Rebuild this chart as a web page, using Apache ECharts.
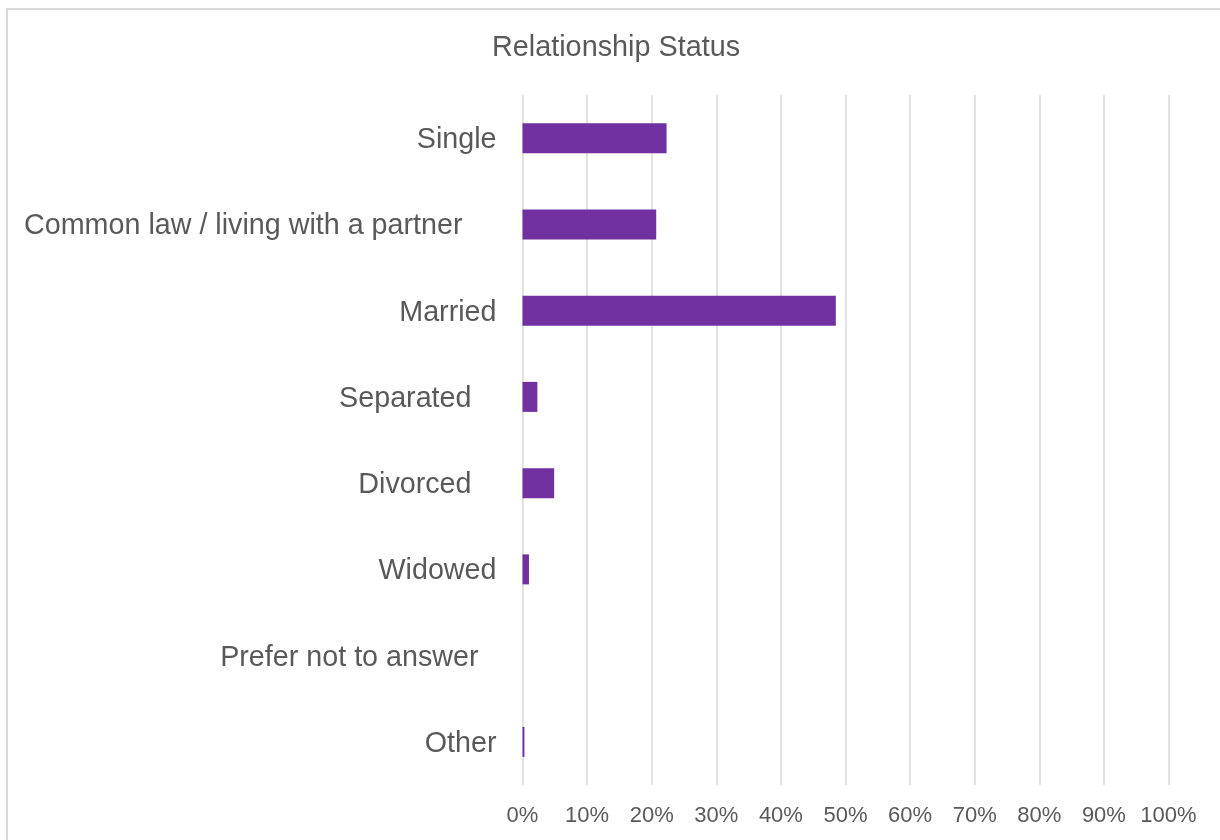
<!DOCTYPE html>
<html>
<head>
<meta charset="utf-8">
<script src="https://cdn.jsdelivr.net/npm/echarts@6/dist/echarts.min.js"></script>
<style>
  html, body { margin: 0; padding: 0; background: #ffffff; }
  #chart { width: 1220px; height: 840px; }
</style>
</head>
<body>
<div id="chart"></div>
<script>
const titleText = 'Relationship Status';
const categories = [
  'Single',
  'Common law / living with a partner',
  'Married',
  'Separated',
  'Divorced',
  'Widowed',
  'Prefer not to answer',
  'Other'
];
const percentValues = [22.3, 20.7, 48.5, 2.3, 4.9, 1.0, 0, 0.3];
const tickLabels = ['0%', '10%', '20%', '30%', '40%', '50%', '60%', '70%', '80%', '90%', '100%'];

// extra right spacing seen after some labels (trailing blanks in source)
const trailPad = { 1: 34, 3: 25, 4: 25, 6: 18 };

const chart = echarts.init(document.getElementById('chart'), null, { renderer: 'canvas' });
const FONT = '"Liberation Sans", Arial, sans-serif';

chart.setOption({
  backgroundColor: '#ffffff',
  animation: false,
  title: {
    text: titleText,
    left: 487,
    top: 29,
    textStyle: { fontFamily: FONT, fontSize: 28.8, fontWeight: 'normal', color: '#595959' }
  },
  graphic: [{
    type: 'rect',
    shape: { x: 7, y: 9, width: 1400, height: 1000 },
    style: { fill: 'none', stroke: '#d9d9d9', lineWidth: 2 },
    silent: true,
    z: 100
  }],
  grid: { left: 522.5, right: 51.5, top: 95, bottom: 55, containLabel: false },
  xAxis: {
    type: 'value',
    min: 0,
    max: 100,
    interval: 10,
    axisLine: { show: false },
    axisTick: { show: false },
    splitLine: { show: true, lineStyle: { color: '#d9d9d9', width: 1.5 } },
    axisLabel: {
      margin: 20,
      fontFamily: FONT,
      fontSize: 22,
      color: '#595959',
      formatter: function (v) { return tickLabels[Math.round(v / 10)]; }
    }
  },
  yAxis: {
    type: 'category',
    inverse: true,
    data: categories,
    axisLine: { show: false },
    axisTick: { show: false },
    splitLine: { show: false },
    axisLabel: {
      margin: 26,
      padding: [4, 0, 0, 0],
      fontFamily: FONT,
      fontSize: 28.7,
      color: '#595959',
      formatter: function (v, i) {
        const p = trailPad[i] || 0;
        return p ? '{p' + p + '|' + v + '}' : v;
      },
      rich: {
        p34: { padding: [0, 34, 0, 0], fontFamily: FONT, fontSize: 28.7, color: '#595959' },
        p25: { padding: [0, 25, 0, 0], fontFamily: FONT, fontSize: 28.7, color: '#595959' },
        p18: { padding: [0, 18, 0, 0], fontFamily: FONT, fontSize: 28.7, color: '#595959' }
      }
    }
  },
  series: [{
    type: 'bar',
    data: percentValues,
    barWidth: 30,
    itemStyle: { color: '#7030A0' },
    silent: true
  }]
});
</script>
</body>
</html>
